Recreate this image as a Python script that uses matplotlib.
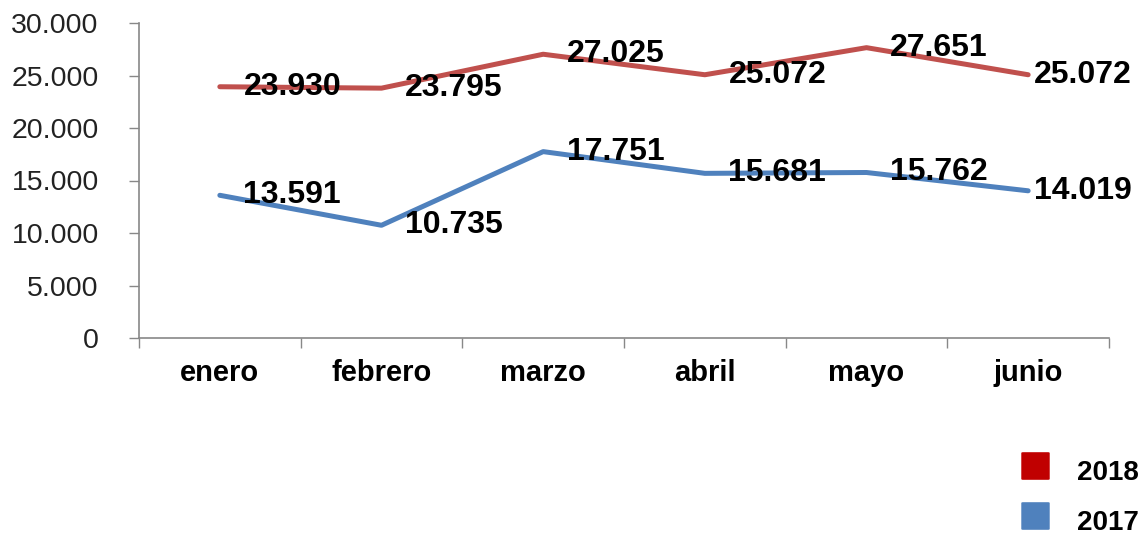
import matplotlib.pyplot as plt
from matplotlib.patches import FancyBboxPatch
import numpy as np

plt.rcParams['font.family'] = ['Liberation Sans', 'DejaVu Sans']

# Data
meses = ['enero', 'febrero', 'marzo', 'abril', 'mayo', 'junio']
valores_2018 = [23930, 23795, 27025, 25072, 27651, 25072]
valores_2017 = [13591, 10735, 17751, 15681, 15762, 14019]
yticks = [0, 5000, 10000, 15000, 20000, 25000, 30000]

color_2018 = '#C0504D'
color_2017 = '#4F81BD'
legend_2018 = '#C00000'

def fmt_miles(v):
    return f'{v:,.0f}'.replace(',', '.')

fig = plt.figure(figsize=(11.42, 5.36), dpi=100)
ax = fig.add_axes([139/1142, 1 - 338/536, (1109 - 139)/1142, (338 - 23)/536])

x = np.arange(len(meses))
ax.plot(x, valores_2018, color=color_2018, linewidth=3.6, solid_capstyle='round')
ax.plot(x, valores_2017, color=color_2017, linewidth=3.6, solid_capstyle='round')

# Data labels to the right of each point (last one sits closer)
for serie in (valores_2018, valores_2017):
    for xi, v in zip(x, serie):
        dx = 4 if xi == len(meses) - 1 else 17
        ax.annotate(fmt_miles(v), (xi, v), xytext=(dx, 0), textcoords='offset points',
                    ha='left', va='center', fontsize=23, fontweight='bold', color='black')

ax.set_xlim(-0.5, len(meses) - 0.5)
ax.set_ylim(0, 30000)

ax.set_yticks(yticks)
ax.set_yticklabels([fmt_miles(v) for v in yticks], fontsize=20.5, color='#222222')
ax.tick_params(axis='y', length=7, width=1, color='#888888', pad=22)

# Category boundaries as tick marks, labels centered
ax.set_xticks(np.arange(-0.5, len(meses), 1.0))
ax.set_xticklabels([])
ax.set_xticks(x, minor=True)
ax.set_xticklabels(meses, minor=True, fontsize=21, fontweight='bold')
ax.tick_params(axis='x', which='major', length=7, width=1, color='#888888')
ax.tick_params(axis='x', which='minor', length=0, pad=15)

for side in ('top', 'right'):
    ax.spines[side].set_visible(False)
for side in ('left', 'bottom'):
    ax.spines[side].set_color('#888888')
    ax.spines[side].set_linewidth(1.2)

# Legend: squares with labels at bottom right
for color, label, yc in ((legend_2018, '2018', 466), (color_2017, '2017', 516)):
    fig.patches.append(FancyBboxPatch((1023/1142, 1 - (yc + 13)/536), 25/1142, 26/536,
                                      boxstyle='round,pad=0.0015', transform=fig.transFigure,
                                      facecolor=color, edgecolor='none', figure=fig))
    fig.text(1077/1142, 1 - (yc + 7)/536, label, fontsize=20, fontweight='bold',
             ha='left', va='center')

fig.savefig('out.png', dpi=100)
